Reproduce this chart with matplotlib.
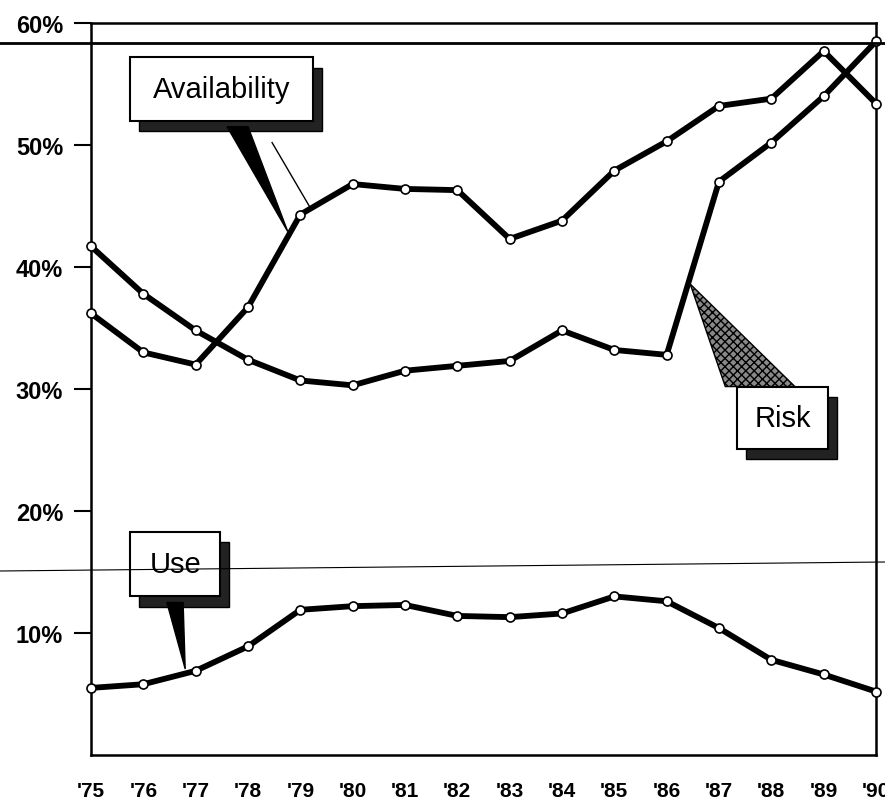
import matplotlib
matplotlib.use("Agg")
import matplotlib.pyplot as plt
from matplotlib.patches import Rectangle, Polygon
from matplotlib.lines import Line2D

years = list(range(75, 91))
year_labels = ["'75", "'76", "'77", "'78", "'79", "'80", "'81", "'82",
               "'83", "'84", "'85", "'86", "'87", "'88", "'89", "'90"]

risk = [41.7, 37.8, 34.8, 32.4, 30.7, 30.3, 31.5, 31.9,
        32.3, 34.8, 33.2, 32.8, 47.0, 50.2, 54.0, 58.5]
availability = [36.2, 33.0, 32.0, 36.7, 44.3, 46.8, 46.4, 46.3,
                42.3, 43.8, 47.9, 50.3, 53.2, 53.8, 57.7, 53.4]
use = [5.5, 5.8, 6.9, 8.9, 11.9, 12.2, 12.3, 11.4,
       11.3, 11.6, 13.0, 12.6, 10.4, 7.8, 6.6, 5.2]

yticks = [10, 20, 30, 40, 50, 60]
ytick_labels = ["10%", "20%", "30%", "40%", "50%", "60%"]

plt.rcParams['font.family'] = ['Liberation Sans', 'DejaVu Sans']

fig = plt.figure(figsize=(8.85, 8.03), dpi=100)
ax = fig.add_axes([91/885, 47/803, 785/885, 732/803])

for series in (risk, availability, use):
    ax.plot(years, series, color='black', lw=4.2, marker='o', ms=6.5,
            mfc='white', mec='black', mew=1.2, clip_on=False, zorder=5)

ax.set_xlim(75, 90)
ax.set_ylim(0, 60)
ax.set_xticks(years)
ax.set_xticklabels(year_labels, fontsize=15, fontweight='bold')
ax.set_yticks(yticks)
ax.set_yticklabels(ytick_labels, fontsize=17, fontweight='bold')
ax.tick_params(axis='x', length=0, pad=19)
ax.tick_params(axis='y', length=12, width=1.5, pad=8)
for s in ax.spines.values():
    s.set_linewidth(1.8)

# callout boxes with drop shadow and pointer
def callout(x0, x1, y0, y1, text, wedge, hatch=False, dx=0.17, dy=0.85):
    ax.add_patch(Rectangle((x0 + dx, y0 - dy), x1 - x0, y1 - y0,
                           facecolor='#222222', edgecolor='black', zorder=6))
    if hatch:
        ax.add_patch(Polygon(wedge, closed=True, facecolor='#888888',
                             edgecolor='black', hatch='xxxx', lw=1, zorder=6))
    else:
        ax.add_patch(Polygon(wedge, closed=True, facecolor='black',
                             edgecolor='black', zorder=6))
    ax.add_patch(Rectangle((x0, y0), x1 - x0, y1 - y0,
                           facecolor='white', edgecolor='black', lw=1.5, zorder=7))
    ax.text((x0 + x1) / 2, (y0 + y1) / 2, text, ha='center', va='center',
            fontsize=21, zorder=8)

callout(75.75, 79.24, 52.0, 57.2, "Availability",
        [(77.6, 51.5), (78.0, 51.5), (78.76, 42.9)])
ax.add_line(Line2D([78.46, 79.17], [50.2, 45.0], color='black', lw=1, zorder=6))
callout(75.75, 77.47, 13.0, 18.3, "Use",
        [(76.45, 12.5), (76.76, 12.5), (76.8, 7.05)])
callout(87.35, 89.08, 25.1, 30.2, "Risk",
        [(87.12, 30.2), (88.45, 30.2), (86.45, 38.6)], hatch=True)

# scan rules across the page
fig.add_artist(Line2D([0, 1], [1 - 44/803, 1 - 44/803], color='black', lw=2))
fig.add_artist(Line2D([0, 1], [1 - 572/803, 1 - 563/803], color='black', lw=0.8))

fig.savefig("out.png", dpi=100)
